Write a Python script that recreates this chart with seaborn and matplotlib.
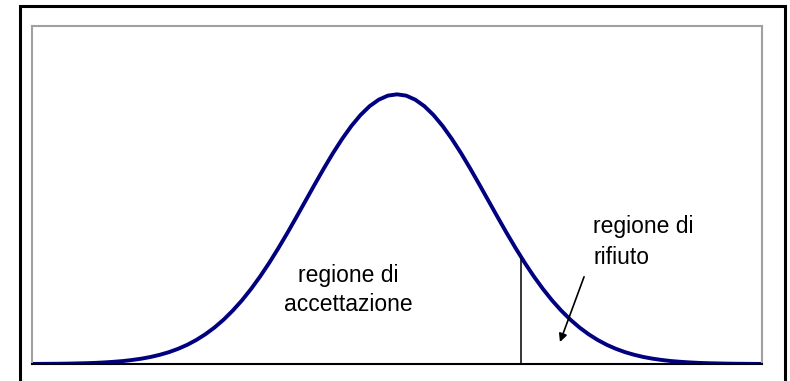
import numpy as np
import pandas as pd
import matplotlib
matplotlib.use("Agg")
import matplotlib.pyplot as plt
from matplotlib.patches import Rectangle
import seaborn as sns

# Standard normal density, tabulated every 0.1 from -4 to 4
z_values = np.round(np.linspace(-4.0, 4.0, 81), 1)
density_right = [0.3989, 0.3970, 0.3910, 0.3814, 0.3683, 0.3521, 0.3332, 0.3123,
                 0.2897, 0.2661, 0.2420, 0.2179, 0.1942, 0.1714, 0.1497, 0.1295,
                 0.1109, 0.0940, 0.0790, 0.0656, 0.0540, 0.0440, 0.0355, 0.0283,
                 0.0224, 0.0175, 0.0136, 0.0104, 0.0079, 0.0060, 0.0044, 0.0033,
                 0.0024, 0.0017, 0.0012, 0.0009, 0.0006, 0.0004, 0.0003, 0.0002,
                 0.0001]
density = density_right[:0:-1] + density_right

critical_z = 1.36
critical_density = 0.158

label_accept = "regione di\naccettazione"
label_reject = "regione di\nrifiuto"

df = pd.DataFrame({"z": z_values, "f": density})

sns.set_theme(style="white")
plt.rcParams["font.family"] = ["Liberation Sans", "DejaVu Sans"]

W, H = 790, 381
fig = plt.figure(figsize=(W / 100, H / 100), dpi=100)
fig.patch.set_facecolor("white")

left, right, top, bottom = 32, 762, 26, 364
ax = fig.add_axes([left / W, 1 - bottom / H, (right - left) / W, (bottom - top) / H])

sns.lineplot(data=df, x="z", y="f", ax=ax, color="#000080", linewidth=2.8)

# critical value marker
ax.vlines(critical_z, 0, critical_density, color="black", linewidth=1.1)

ax.set_xlim(-4, 4)
ax.set_ylim(0, 0.5)
ax.set_xticks([])
ax.set_yticks([])
ax.set_xlabel("")
ax.set_ylabel("")

for side in ("left", "right", "top"):
    ax.spines[side].set_visible(True)
    ax.spines[side].set_color("#a0a0a0")
    ax.spines[side].set_linewidth(1.5)
ax.spines["bottom"].set_color("black")
ax.spines["bottom"].set_linewidth(1.5)

ax.text(-0.537, 0.1095, label_accept, ha="center", va="center",
        fontsize=16.5, linespacing=1.35, color="black")
ax.text(2.148, 0.181, label_reject, ha="left", va="center",
        fontsize=16.5, linespacing=1.45, color="black")

ax.annotate("", xy=(1.786, 0.0325), xytext=(2.05, 0.129),
            arrowprops=dict(arrowstyle="-|>", color="black", lw=1.2,
                            mutation_scale=12, shrinkA=0, shrinkB=0))

# outer frame around the chart
fig.patches.append(Rectangle((19.5 / W, -0.05), (784.5 - 19.5) / W, 1 - 5.5 / H + 0.05,
                             transform=fig.transFigure, fill=False,
                             edgecolor="black", linewidth=2.2, zorder=10))

fig.savefig("out.png", dpi=100)
